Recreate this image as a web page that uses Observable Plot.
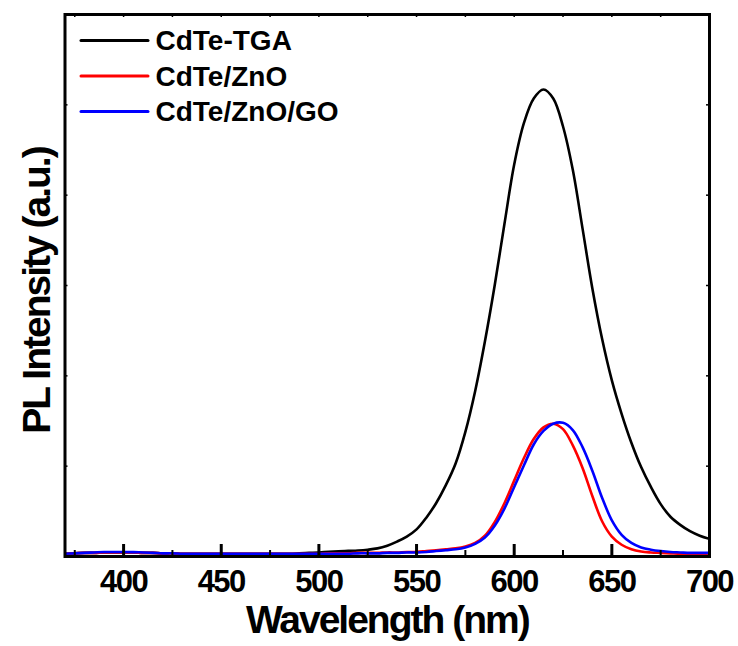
<!DOCTYPE html>
<html>
<head>
<meta charset="utf-8">
<script src="https://cdn.jsdelivr.net/npm/d3@7"></script>
<script src="https://cdn.jsdelivr.net/npm/@observablehq/plot@0.6"></script>
<style>
  html, body { margin: 0; padding: 0; background: #fff; }
  #chart { width: 738px; height: 646px; }
  svg { font-family: "Liberation Sans", Arial, sans-serif; }
</style>
</head>
<body>
<div id="chart"></div>
<script>
// ---- data ----
const wavelength = d3.range(370, 701, 5);
const cdteTGA = [
  0.03, 0.035, 0.04, 0.04, 0.045, 0.045, 0.045, 0.045, 0.04, 0.04,
  0.035, 0.035, 0.03, 0.03, 0.03, 0.03, 0.03, 0.03, 0.03, 0.03,
  0.03, 0.03, 0.03, 0.03, 0.035, 0.04, 0.045, 0.052, 0.058, 0.062,
  0.066, 0.075, 0.09, 0.12, 0.165, 0.22, 0.30, 0.43, 0.59, 0.79,
  1.03, 1.38, 1.83, 2.38, 3.00, 3.68, 4.34, 4.80, 5.07, 5.17,
  5.07, 4.76, 4.28, 3.63, 2.97, 2.41, 1.95, 1.58, 1.26, 0.99,
  0.77, 0.58, 0.44, 0.35, 0.28, 0.23, 0.195
];
const cdteZnO = [
  0.03, 0.035, 0.04, 0.04, 0.045, 0.045, 0.045, 0.045, 0.04, 0.04,
  0.035, 0.035, 0.03, 0.03, 0.03, 0.03, 0.03, 0.03, 0.03, 0.03,
  0.03, 0.03, 0.03, 0.03, 0.03, 0.03, 0.03, 0.035, 0.035, 0.035,
  0.04, 0.04, 0.04, 0.045, 0.045, 0.05, 0.05, 0.06, 0.07, 0.08,
  0.09, 0.11, 0.15, 0.23, 0.38, 0.59, 0.84, 1.09, 1.30, 1.43,
  1.47, 1.41, 1.23, 0.98, 0.67, 0.39, 0.22, 0.13, 0.08, 0.055,
  0.045, 0.04, 0.035, 0.03, 0.03, 0.025, 0.025
];
const cdteZnOGO = [
  0.03, 0.035, 0.04, 0.045, 0.05, 0.05, 0.05, 0.048, 0.045, 0.04,
  0.035, 0.035, 0.03, 0.03, 0.03, 0.03, 0.03, 0.03, 0.03, 0.03,
  0.03, 0.03, 0.03, 0.03, 0.03, 0.03, 0.03, 0.03, 0.03, 0.03,
  0.035, 0.035, 0.035, 0.04, 0.04, 0.045, 0.045, 0.05, 0.06, 0.07,
  0.08, 0.10, 0.14, 0.21, 0.34, 0.53, 0.77, 1.01, 1.24, 1.39,
  1.47, 1.48, 1.40, 1.21, 0.95, 0.65, 0.40, 0.24, 0.15, 0.10,
  0.075, 0.06, 0.05, 0.045, 0.04, 0.04, 0.04
];
const seriesNames = ["CdTe-TGA", "CdTe/ZnO", "CdTe/ZnO/GO"];
const seriesColors = ["#000000", "#ff0000", "#0000ff"];
const seriesValues = [cdteTGA, cdteZnO, cdteZnOGO];
const xMajorTicks = [400, 450, 500, 550, 600, 650, 700];
const xMinorTicks = [375, 425, 475, 525, 575, 625, 675];
const yTicks = [1, 2, 3, 4, 5];
const xLabel = "Wavelength (nm)";
const yLabel = "PL Intensity (a.u.)";

// ---- build ----
const W = 738, H = 646, mL = 64.5, mR = 29, mT = 14, mB = 90;
const frameW = W - mL - mR, frameH = H - mT - mB;

const rows = [];
seriesNames.forEach((name, i) => {
  wavelength.forEach((w, j) => rows.push({series: name, wl: w, v: seriesValues[i][j]}));
});

const lineShape = {draw(ctx, l) { ctx.moveTo(0, 0); ctx.lineTo(0, -l); }};
const font = {fontFamily: "'Liberation Sans', Arial, sans-serif", fontWeight: "bold", lineAnchor: "middle"};

const marks = [];
seriesNames.forEach((name, i) => {
  marks.push(Plot.line(rows.filter(r => r.series === name), {
    x: "wl", y: "v", stroke: seriesColors[i], strokeWidth: 2.6, curve: "catmull-rom", clip: true
  }));
});
// inward frame ticks
marks.push(Plot.tickX(xMajorTicks, {x: d => d, insetTop: frameH - 12, stroke: "black", strokeWidth: 3}));
marks.push(Plot.tickX(xMinorTicks, {x: d => d, insetTop: frameH - 6, stroke: "black", strokeWidth: 2}));
marks.push(Plot.tickX(xMajorTicks.concat(xMinorTicks), {x: d => d, insetBottom: frameH - 3, stroke: "black", strokeWidth: 1.5}));
marks.push(Plot.tickY(yTicks, {y: d => d, insetRight: frameW - 3, stroke: "black", strokeWidth: 1.5}));
marks.push(Plot.tickY(yTicks, {y: d => d, insetLeft: frameW - 3, stroke: "black", strokeWidth: 1.5}));
marks.push(Plot.frame({stroke: "black", strokeWidth: 3}));
// tick labels
marks.push(Plot.text(xMajorTicks, {x: d => d, frameAnchor: "bottom", dy: 26, text: d => String(d), textAnchor: "middle", fontSize: 31, ...font, fill: "black"}));
// axis titles
marks.push(Plot.text([xLabel], {frameAnchor: "bottom", dy: 64.5, text: d => d, textAnchor: "middle", fontSize: 39, ...font, fill: "black"}));
marks.push(Plot.text([yLabel], {frameAnchor: "left", dx: -27, dy: 5, rotate: -90, text: d => d, textAnchor: "middle", fontSize: 39, ...font, fill: "black"}));
// legend
seriesNames.forEach((name, i) => {
  marks.push(Plot.vector([name], {frameAnchor: "top-left", dx: 16, dy: 26 + i * 35.5, length: 67, rotate: 90, anchor: "start", shape: lineShape, stroke: seriesColors[i], strokeWidth: 3}));
  marks.push(Plot.text([name], {frameAnchor: "top-left", dx: 90.5, dy: 27 + i * 35.5, text: d => d, textAnchor: "start", fontSize: 28, ...font, fill: "black"}));
});

const chart = Plot.plot({
  width: W,
  height: H,
  marginLeft: mL,
  marginRight: mR,
  marginTop: mT,
  marginBottom: mB,
  x: {domain: [370, 700], axis: null},
  y: {domain: [0, 6], axis: null},
  style: {background: "#fff", overflow: "visible"},
  marks
});
d3.select(chart).selectAll("text").each(function() {
  const t = this.textContent;
  if (t === xLabel || t === yLabel) this.style.letterSpacing = "-2px";
  else if (xMajorTicks.map(String).includes(t)) this.style.letterSpacing = "-1.5px";
});
document.getElementById("chart").appendChild(chart);
</script>
</body>
</html>
